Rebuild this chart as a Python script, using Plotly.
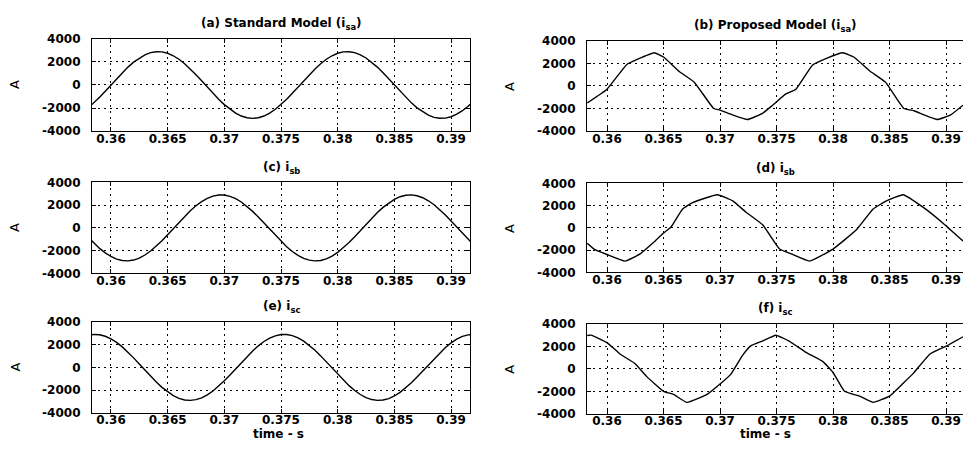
import plotly.graph_objects as go

# ---------------- data ----------------
# time grid for the standard-model traces (s)
t_std = [0.358, 0.3585, 0.359, 0.3595, 0.36, 0.3605, 0.361, 0.3615, 0.362, 0.3625,
         0.363, 0.3635, 0.364, 0.3645, 0.365, 0.3655, 0.366, 0.3665, 0.367, 0.3675,
         0.368, 0.3685, 0.369, 0.3695, 0.37, 0.3705, 0.371, 0.3715, 0.372, 0.3725,
         0.373, 0.3735, 0.374, 0.3745, 0.375, 0.3755, 0.376, 0.3765, 0.377, 0.3775,
         0.378, 0.3785, 0.379, 0.3795, 0.38, 0.3805, 0.381, 0.3815, 0.382, 0.3825,
         0.383, 0.3835, 0.384, 0.3845, 0.385, 0.3855, 0.386, 0.3865, 0.387, 0.3875,
         0.388, 0.3885, 0.389, 0.3895, 0.39, 0.3905, 0.391, 0.3915, 0.392]

isa_std = [-1987, -1554, -1067, -542, 0, 542, 1067, 1554, 1987, 2346, 2625, 2810, 2894, 2877,
           2758, 2540, 2236, 1847, 1398, 896, 363, -183, -722, -1235, -1705, -2114, -2448,
           -2697, -2848, -2900, -2848, -2697, -2448, -2114, -1705, -1235, -722, -183, 363,
           896, 1398, 1847, 2236, 2540, 2758, 2877, 2894, 2810, 2625, 2346, 1987, 1554, 1067,
           542, 0, -542, -1067, -1554, -1987, -2346, -2625, -2810, -2894, -2877, -2758,
           -2540, -2236, -1847, -1398]

isb_std = [-838, -1343, -1801, -2195, -2511, -2738, -2868, -2897, -2825, -2651, -2381, -2030,
           -1604, -1125, -603, -61, 484, 1012, 1502, 1940, 2311, 2598, 2793, 2888, 2886, 2775,
           2569, 2274, 1894, 1450, 954, 423, -122, -661, -1180, -1656, -2071, -2416, -2674,
           -2836, -2900, -2859, -2717, -2480, -2155, -1755, -1291, -780, -244, 305, 838, 1343,
           1801, 2195, 2511, 2738, 2868, 2897, 2825, 2651, 2381, 2030, 1604, 1125, 603, 61,
           -484, -1012, -1502]

isc_std = [2825, 2897, 2868, 2737, 2511, 2196, 1801, 1343, 838, 305, -244, -780, -1290, -1752,
           -2155, -2479, -2720, -2859, -2900, -2836, -2674, -2415, -2071, -1653, -1181, -661,
           -121, 423, 954, 1450, 1894, 2274, 2570, 2775, 2885, 2891, 2793, 2599, 2311, 1940,
           1502, 1012, 481, -60, -603, -1122, -1603, -2030, -2381, -2651, -2825, -2897, -2868,
           -2737, -2511, -2196, -1801, -1343, -838, -305, 244, 780, 1290, 1752, 2155, 2479,
           2720, 2859, 2900]

# proposed model
t_b = [0.35825, 0.36, 0.36175, 0.36263, 0.36417, 0.365, 0.36639, 0.36772, 0.36944, 0.37,
       0.37111, 0.37243, 0.37376, 0.37465, 0.37583, 0.37672, 0.37819, 0.37937, 0.38086,
       0.38183, 0.38331, 0.38464, 0.38627, 0.38716, 0.38805, 0.38923, 0.39041, 0.3915]
isa_prop = [-1510, -290, 1910, 2340, 2950, 2570, 1290, 340, -2000, -2140, -2570, -2980,
            -2430, -1710, -710, -290, 1860, 2430, 2950, 2570, 1290, 340, -2000, -2200,
            -2570, -2980, -2570, -1710]

t_d = [0.35825, 0.35893, 0.36, 0.3616, 0.36293, 0.36411, 0.365, 0.36565, 0.36669, 0.36757,
       0.36976, 0.37112, 0.3723, 0.37379, 0.37527, 0.3763, 0.37793, 0.38, 0.38207, 0.38355,
       0.38473, 0.38621, 0.38799, 0.38976, 0.3915]
isb_prop = [-1380, -1960, -2390, -2980, -2330, -1320, -460, 60, 1700, 2270, 2980, 2420,
            1410, 260, -1900, -2330, -2980, -1900, -170, 1700, 2420, 2980, 1840, 400, -1180]

t_f = [0.35825, 0.3586, 0.36, 0.36115, 0.36249, 0.36352, 0.365, 0.36589, 0.36707, 0.36885,
       0.37, 0.37095, 0.37198, 0.37272, 0.37376, 0.37494, 0.37612, 0.3776, 0.37908, 0.38,
       0.38101, 0.38234, 0.38355, 0.385, 0.38621, 0.3871, 0.38858, 0.39006, 0.3915]
isc_prop = [2960, 2990, 2330, 1320, 460, -690, -1990, -2270, -2980, -2270, -1350, -490,
            1180, 2040, 2470, 2980, 2470, 1470, 660, -320, -1990, -2420, -2980, -2420,
            -1270, -400, 1320, 2040, 2850]

x_tickvals = [0.36, 0.365, 0.37, 0.375, 0.38, 0.385, 0.39]
x_ticktext = ["0.36", "0.365", "0.37", "0.375", "0.38", "0.385", "0.39"]
y_tickvals = [-4000, -2000, 0, 2000, 4000]
y_ticktext = ["-4000", "-2000", "0", "2000", "4000"]

titles = ["(a) Standard Model (i<sub>sa</sub>)", "(b) Proposed Model (i<sub>sa</sub>)",
          "(c) i<sub>sb</sub>", "(d) i<sub>sb</sub>",
          "(e) i<sub>sc</sub>", "(f) i<sub>sc</sub>"]
y_label = "A"
x_label = "time - s"

# ---------------- figure ----------------
W, H = 963, 449
FONT = "DejaVu Sans"

panels = [
    # (x, y, x_px, y_px, xrange)
    (t_std, isa_std, (92, 470), (33, 128), [0.35833, 0.39167]),
    (t_b, isa_prop, (587, 963), (35, 128), [0.35823, 0.3915]),
    (t_std, isb_std, (92, 470), (181, 275), [0.35833, 0.39167]),
    (t_d, isb_prop, (587, 963), (182, 274), [0.35823, 0.3915]),
    (t_std, isc_std, (92, 470), (325, 419), [0.35833, 0.39167]),
    (t_f, isc_prop, (587, 963), (327, 420), [0.35823, 0.3915]),
]

fig = go.Figure()
layout = dict(width=W, height=H, autosize=False,
              margin=dict(l=0, r=0, t=0, b=0),
              paper_bgcolor="white", plot_bgcolor="white",
              showlegend=False,
              font=dict(family=FONT, size=12, color="black"))

annotations = []
for i, (xs, ys, xpx, ypx, xr) in enumerate(panels):
    n = "" if i == 0 else str(i + 1)
    right_col = (i % 2 == 1)
    fig.add_trace(go.Scatter(x=xs, y=ys, mode="lines",
                             xaxis="x" + n, yaxis="y" + n,
                             line=dict(color="black", width=1.4,
                                       shape="spline" if right_col else "linear",
                                       smoothing=0.35),
                             hoverinfo="skip"))
    xdom = [xpx[0] / W, min(1.0, xpx[1] / W)]
    ydom = [1 - ypx[1] / H, 1 - ypx[0] / H]
    layout["xaxis" + n] = dict(domain=xdom, range=xr, anchor="y" + n,
                               tickvals=x_tickvals, ticktext=x_ticktext,
                               showgrid=True, gridcolor="black", griddash="2px,4px",
                               gridwidth=1, zeroline=False,
                               showline=True, linecolor="black", linewidth=1.2,
                               mirror="ticks", ticks="inside", ticklen=4,
                               tickcolor="black", ticklabelstandoff=-4,
                               tickfont=dict(family=FONT, size=12, weight="bold"))
    layout["yaxis" + n] = dict(domain=ydom, range=[-4000, 4000], anchor="x" + n,
                               tickvals=y_tickvals, ticktext=y_ticktext,
                               showgrid=True, gridcolor="black", griddash="2px,4px",
                               gridwidth=1, zeroline=False,
                               showline=True, linecolor="black", linewidth=1.2,
                               mirror=("ticks" if not right_col else False),
                               ticks="inside", ticklen=4, tickcolor="black",
                               ticklabelstandoff=8,
                               tickfont=dict(family=FONT, size=12, weight="bold"))
    # title
    cx = (xpx[0] + xpx[1]) / 2
    ty = ypx[0] - 15
    annotations.append(dict(text=titles[i], x=cx / W, y=1 - ty / H,
                            xref="paper", yref="paper", showarrow=False,
                            xanchor="center", yanchor="middle",
                            font=dict(family=FONT, size=12, weight="bold")))
    # y label
    lx = 15 if not right_col else 510
    annotations.append(dict(text=y_label, x=lx / W, y=1 - ((ypx[0] + ypx[1]) / 2) / H,
                            xref="paper", yref="paper", showarrow=False,
                            textangle=-90, xanchor="center", yanchor="middle",
                            font=dict(family=FONT, size=13)))

for cx in (278, 765):
    annotations.append(dict(text=x_label, x=cx / W, y=1 - 441 / H,
                            xref="paper", yref="paper", showarrow=False,
                            xanchor="center", yanchor="middle",
                            font=dict(family=FONT, size=12, weight="bold")))

layout["annotations"] = annotations
fig.update_layout(**layout)
fig.write_html("out.html")
